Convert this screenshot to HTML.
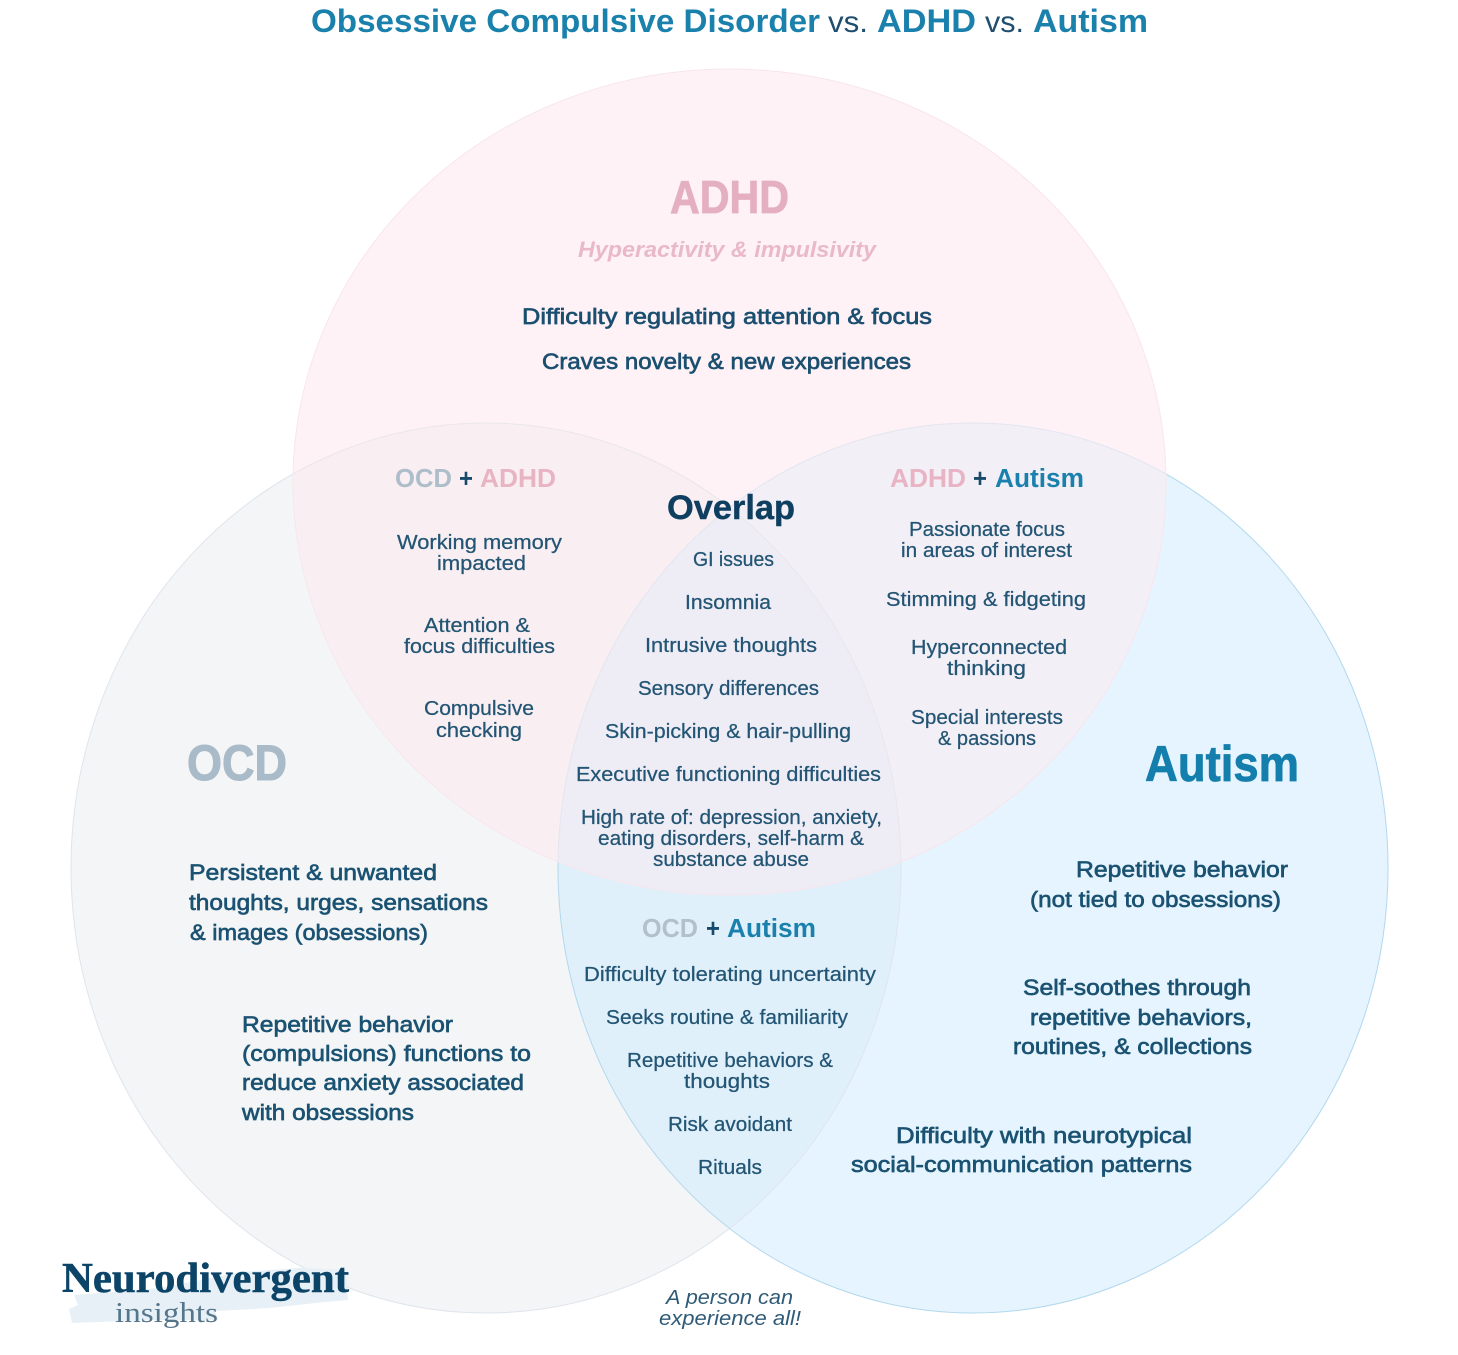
<!DOCTYPE html>
<html lang="en"><head><meta charset="utf-8"><title>OCD vs ADHD vs Autism</title>
<style>
html,body{margin:0;padding:0;background:#fff;width:1458px;height:1355px;overflow:hidden}
svg{display:block}
text{font-family:"Liberation Sans",sans-serif}
.m{font-size:22.5px;fill:#1b5272;stroke:#1b5272;stroke-width:.65}
.a{font-size:22px;fill:#1b4f70;stroke:#1b4f70;stroke-width:.65}
.b{font-size:20px;fill:#235574;stroke:#235574;stroke-width:.25}
.h{font-size:25.5px;font-weight:bold}
.t{font-size:32px;font-weight:bold;fill:#1a80ac}
.v{font-size:30px;fill:#1f4d6e}
</style></head><body>
<svg xmlns="http://www.w3.org/2000/svg" width="1458" height="1355" viewBox="0 0 1458 1355">
<defs>
<clipPath id="cA"><ellipse cx="729.5" cy="482" rx="436.5" ry="413"/></clipPath>
<clipPath id="cO"><ellipse cx="486" cy="868" rx="415" ry="445"/></clipPath>
<clipPath id="cU"><ellipse cx="973" cy="868" rx="415" ry="445"/></clipPath>
<mask id="notA" maskUnits="userSpaceOnUse" x="0" y="0" width="1458" height="1355"><rect width="1458" height="1355" fill="#fff"/><ellipse cx="729.5" cy="482" rx="436.5" ry="413" fill="#000"/></mask>
</defs>

<ellipse cx="729.5" cy="482" rx="436.5" ry="413" fill="#fef2f7"/>
<ellipse cx="486" cy="868" rx="415" ry="445" fill="#f3f5f7"/>
<ellipse cx="973" cy="868" rx="415" ry="445" fill="#e5f4fe"/>
<g clip-path="url(#cO)"><ellipse cx="973" cy="868" rx="415" ry="445" fill="#e0f0fb"/></g>
<g clip-path="url(#cA)"><ellipse cx="486" cy="868" rx="415" ry="445" fill="#f9eff2"/></g>
<g clip-path="url(#cA)"><ellipse cx="973" cy="868" rx="415" ry="445" fill="#f3eff6"/></g>
<g clip-path="url(#cA)"><g clip-path="url(#cO)"><ellipse cx="973" cy="868" rx="415" ry="445" fill="#eeecf5"/></g></g>

<g mask="url(#notA)">
<ellipse cx="486" cy="868" rx="415" ry="445" fill="none" stroke="#dfe5ec" stroke-width="1"/>
<ellipse cx="973" cy="868" rx="415" ry="445" fill="none" stroke="#b2d8ec" stroke-width="1"/>
</g>
<g clip-path="url(#cA)">
<ellipse cx="486" cy="868" rx="415" ry="445" fill="none" stroke="#e9e6ec" stroke-width="1"/>
<ellipse cx="973" cy="868" rx="415" ry="445" fill="none" stroke="#e2e6f0" stroke-width="1"/>
</g>
<ellipse cx="729.5" cy="482" rx="436.5" ry="413" fill="none" stroke="#f8e6ec" stroke-width="1"/>

<!-- Title -->
<text class="t" x="311" y="32" textLength="509" lengthAdjust="spacingAndGlyphs">Obsessive Compulsive Disorder</text>
<text class="v" x="828" y="32" textLength="40" lengthAdjust="spacingAndGlyphs">vs.</text>
<text class="t" x="877" y="32" textLength="99" lengthAdjust="spacingAndGlyphs">ADHD</text>
<text class="v" x="985" y="32" textLength="39" lengthAdjust="spacingAndGlyphs">vs.</text>
<text class="t" x="1033" y="32" textLength="115" lengthAdjust="spacingAndGlyphs">Autism</text>

<!-- ADHD -->
<text x="670" y="213" font-size="46" font-weight="bold" fill="#e4b0c1" stroke="#e4b0c1" stroke-width=".8" textLength="119" lengthAdjust="spacingAndGlyphs">ADHD</text>
<text x="578" y="257" font-size="22.5" font-weight="bold" font-style="italic" fill="#e9b9c9" textLength="298" lengthAdjust="spacingAndGlyphs">Hyperactivity &amp; impulsivity</text>
<text class="a" x="522" y="324" textLength="410" lengthAdjust="spacingAndGlyphs">Difficulty regulating attention &amp; focus</text>
<text class="a" x="542" y="369" textLength="369" lengthAdjust="spacingAndGlyphs">Craves novelty &amp; new experiences</text>

<!-- OCD + ADHD -->
<text class="h" x="395" y="487" fill="#aebdca" textLength="57" lengthAdjust="spacingAndGlyphs">OCD</text>
<text class="h" x="459" y="487" fill="#174a6b" textLength="14" lengthAdjust="spacingAndGlyphs">+</text>
<text class="h" x="480" y="487" fill="#e8b4c4" textLength="76" lengthAdjust="spacingAndGlyphs">ADHD</text>
<text class="b" x="397" y="549" textLength="165" lengthAdjust="spacingAndGlyphs">Working memory</text>
<text class="b" x="437" y="570" textLength="89" lengthAdjust="spacingAndGlyphs">impacted</text>
<text class="b" x="424" y="632" textLength="106" lengthAdjust="spacingAndGlyphs">Attention &amp;</text>
<text class="b" x="404" y="653" textLength="151" lengthAdjust="spacingAndGlyphs">focus difficulties</text>
<text class="b" x="424" y="715" textLength="110" lengthAdjust="spacingAndGlyphs">Compulsive</text>
<text class="b" x="436" y="737" textLength="86" lengthAdjust="spacingAndGlyphs">checking</text>

<!-- Overlap -->
<text x="667" y="519" font-size="34" font-weight="bold" fill="#0f3f60" stroke="#0f3f60" stroke-width=".4" textLength="128" lengthAdjust="spacingAndGlyphs">Overlap</text>
<text class="b" x="693" y="566" textLength="81" lengthAdjust="spacingAndGlyphs">GI issues</text>
<text class="b" x="685" y="609" textLength="86" lengthAdjust="spacingAndGlyphs">Insomnia</text>
<text class="b" x="645" y="652" textLength="172" lengthAdjust="spacingAndGlyphs">Intrusive thoughts</text>
<text class="b" x="638" y="695" textLength="181" lengthAdjust="spacingAndGlyphs">Sensory differences</text>
<text class="b" x="605" y="738" textLength="246" lengthAdjust="spacingAndGlyphs">Skin-picking &amp; hair-pulling</text>
<text class="b" x="576" y="781" textLength="305" lengthAdjust="spacingAndGlyphs">Executive functioning difficulties</text>
<text class="b" x="581" y="824" textLength="301" lengthAdjust="spacingAndGlyphs">High rate of: depression, anxiety,</text>
<text class="b" x="598" y="845" textLength="266" lengthAdjust="spacingAndGlyphs">eating disorders, self-harm &amp;</text>
<text class="b" x="653" y="866" textLength="156" lengthAdjust="spacingAndGlyphs">substance abuse</text>

<!-- ADHD + Autism -->
<text class="h" x="890" y="487" fill="#e8b4c4" textLength="76" lengthAdjust="spacingAndGlyphs">ADHD</text>
<text class="h" x="973" y="487" fill="#174a6b" textLength="14" lengthAdjust="spacingAndGlyphs">+</text>
<text class="h" x="995" y="487" fill="#1a80ac" textLength="89" lengthAdjust="spacingAndGlyphs">Autism</text>
<text class="b" x="909" y="536" textLength="156" lengthAdjust="spacingAndGlyphs">Passionate focus</text>
<text class="b" x="901" y="557" textLength="171" lengthAdjust="spacingAndGlyphs">in areas of interest</text>
<text class="b" x="886" y="606" textLength="200" lengthAdjust="spacingAndGlyphs">Stimming &amp; fidgeting</text>
<text class="b" x="911" y="654" textLength="156" lengthAdjust="spacingAndGlyphs">Hyperconnected</text>
<text class="b" x="947" y="675" textLength="79" lengthAdjust="spacingAndGlyphs">thinking</text>
<text class="b" x="911" y="724" textLength="152" lengthAdjust="spacingAndGlyphs">Special interests</text>
<text class="b" x="938" y="745" textLength="98" lengthAdjust="spacingAndGlyphs">&amp; passions</text>

<!-- OCD + Autism -->
<text class="h" x="642" y="937" fill="#b3bfc9" textLength="56" lengthAdjust="spacingAndGlyphs">OCD</text>
<text class="h" x="706" y="937" fill="#174a6b" textLength="14" lengthAdjust="spacingAndGlyphs">+</text>
<text class="h" x="727" y="937" fill="#1a80ac" textLength="89" lengthAdjust="spacingAndGlyphs">Autism</text>
<text class="b" x="584" y="981" textLength="292" lengthAdjust="spacingAndGlyphs">Difficulty tolerating uncertainty</text>
<text class="b" x="606" y="1024" textLength="242" lengthAdjust="spacingAndGlyphs">Seeks routine &amp; familiarity</text>
<text class="b" x="627" y="1067" textLength="206" lengthAdjust="spacingAndGlyphs">Repetitive behaviors &amp;</text>
<text class="b" x="684" y="1088" textLength="86" lengthAdjust="spacingAndGlyphs">thoughts</text>
<text class="b" x="668" y="1131" textLength="124" lengthAdjust="spacingAndGlyphs">Risk avoidant</text>
<text class="b" x="698" y="1174" textLength="64" lengthAdjust="spacingAndGlyphs">Rituals</text>

<!-- OCD -->
<text x="187" y="780" font-size="50" font-weight="bold" fill="#a9bac8" stroke="#a9bac8" stroke-width="1" textLength="100" lengthAdjust="spacingAndGlyphs">OCD</text>
<text class="m" x="189" y="880" textLength="248" lengthAdjust="spacingAndGlyphs">Persistent &amp; unwanted</text>
<text class="m" x="189" y="910" textLength="299" lengthAdjust="spacingAndGlyphs">thoughts, urges, sensations</text>
<text class="m" x="190" y="940" textLength="238" lengthAdjust="spacingAndGlyphs">&amp; images (obsessions)</text>
<text class="m" x="242" y="1032" textLength="211" lengthAdjust="spacingAndGlyphs">Repetitive behavior</text>
<text class="m" x="242" y="1061" textLength="289" lengthAdjust="spacingAndGlyphs">(compulsions) functions to</text>
<text class="m" x="242" y="1090" textLength="282" lengthAdjust="spacingAndGlyphs">reduce anxiety associated</text>
<text class="m" x="242" y="1120" textLength="172" lengthAdjust="spacingAndGlyphs">with obsessions</text>

<!-- Autism -->
<text x="1145" y="781" font-size="50" font-weight="bold" fill="#147fac" stroke="#147fac" stroke-width=".8" textLength="154" lengthAdjust="spacingAndGlyphs">Autism</text>
<text class="m" x="1076" y="877" textLength="212" lengthAdjust="spacingAndGlyphs">Repetitive behavior</text>
<text class="m" x="1030" y="907" textLength="251" lengthAdjust="spacingAndGlyphs">(not tied to obsessions)</text>
<text class="m" x="1023" y="995" textLength="228" lengthAdjust="spacingAndGlyphs">Self-soothes through</text>
<text class="m" x="1030" y="1025" textLength="222" lengthAdjust="spacingAndGlyphs">repetitive behaviors,</text>
<text class="m" x="1013" y="1054" textLength="239" lengthAdjust="spacingAndGlyphs">routines, &amp; collections</text>
<text class="m" x="896" y="1143" textLength="296" lengthAdjust="spacingAndGlyphs">Difficulty with neurotypical</text>
<text class="m" x="851" y="1172" textLength="341" lengthAdjust="spacingAndGlyphs">social-communication patterns</text>

<!-- Logo -->
<path d="M74 1295 L160 1288 L240 1272 L300 1268 L346 1270 L348 1300 L325 1302 L270 1308 L215 1311 L218 1320 L150 1320 L72 1323 L69 1309 L78 1305 Z" fill="#e7f0f6"/>
<text x="62" y="1292" style="font-family:'Liberation Serif',serif" font-size="42" font-weight="bold" fill="#0c4468" stroke="#0c4468" stroke-width=".5" textLength="287" lengthAdjust="spacingAndGlyphs">Neurodivergent</text>
<text x="115" y="1322" style="font-family:'Liberation Serif',serif" font-size="29" fill="#55758b" textLength="103" lengthAdjust="spacingAndGlyphs">insights</text>

<text x="666" y="1304" font-size="20" font-style="italic" fill="#2f5b78" textLength="127" lengthAdjust="spacingAndGlyphs">A person can</text>
<text x="659" y="1325" font-size="20" font-style="italic" fill="#2f5b78" textLength="142" lengthAdjust="spacingAndGlyphs">experience all!</text>
</svg>
</body></html>
